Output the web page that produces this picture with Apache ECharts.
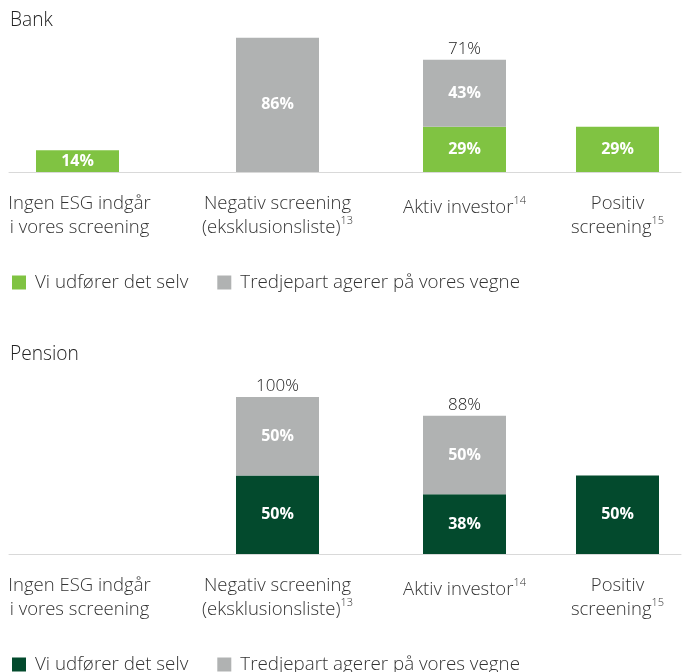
<!DOCTYPE html>
<html><head><meta charset="utf-8">
<script src="https://cdn.jsdelivr.net/npm/echarts@6/dist/echarts.min.js"></script>
<style>html,body{margin:0;padding:0;background:#fff}#c{width:686px;height:672px}</style>
</head><body><div id="c"></div>
<script>
// ---- data ----
const categories = ['Ingen ESG indgår\ni vores screening', 'Negativ screening\n(eksklusionsliste)', 'Aktiv investor', 'Positiv\nscreening'];
const footnotes = ['', '13', '14', '15'];
const seriesNames = ['Vi udfører det selv', 'Tredjepart agerer på vores vegne'];
const panelTitles = ['Bank', 'Pension'];
const bankSelf = [14, null, 29, 29];
const bankThird = [null, 86, 43, null];
const bankTotal = [null, null, 71, null];
const pensionSelf = [null, 50, 38, 50];
const pensionThird = [null, 50, 50, null];
const pensionTotal = [null, 100, 88, null];

// ---- layout / style ----
const FONT = 'Open Sans';
const GREY = '#b0b2b2';
const TXT = '#333';
const barLeft = [36, 236, 423, 576];
const barW = 83;
const labelShift = [4, 0, 0, 0];
const panels = [
  { title: panelTitles[0], self: bankSelf, third: bankThird, total: bankTotal, selfColor: '#80c342', top: 16, height: 156, titleTop: 11, legendTop: 273 },
  { title: panelTitles[1], self: pensionSelf, third: pensionThird, total: pensionTotal, selfColor: '#034a2d', top: 397, height: 157, titleTop: 345, legendTop: 655 }
];

const grid = [], xAxis = [], yAxis = [], series = [], title = [], legend = [];
panels.forEach((p, pi) => {
  title.push({ text: p.title, left: 10, top: p.titleTop, padding: 0,
    textStyle: { fontSize: 19.2, fontWeight: 300, color: '#222', fontFamily: FONT } });
  legend.push({ top: p.legendTop, left: 12, padding: 0, itemWidth: 14, itemHeight: 14, icon: 'rect', itemGap: 29,
    selectedMode: false,
    textStyle: { fontSize: 18.8, fontWeight: 300, color: TXT, fontFamily: FONT, padding: [0, 0, 0, 4] },
    data: [{ name: seriesNames[0], itemStyle: { color: p.selfColor } }, { name: seriesNames[1], itemStyle: { color: GREY } }] });
  // baseline grid
  let gi = grid.length;
  grid.push({ left: 9, width: 672, top: p.top, height: p.height });
  xAxis.push({ gridIndex: gi, type: 'category', data: [''], axisLine: { show: true, lineStyle: { color: '#d9d9d9', width: 1 } }, axisTick: { show: false }, axisLabel: { show: false } });
  yAxis.push({ gridIndex: gi, type: 'value', show: false, min: 0, max: 100 });
  categories.forEach((cat, i) => {
    gi = grid.length;
    grid.push({ left: barLeft[i], width: barW, top: p.top, height: p.height });
    const single = cat.indexOf('\n') < 0;
    xAxis.push({ gridIndex: gi, type: 'category', data: [cat], axisLine: { show: false }, axisTick: { show: false },
      axisLabel: { margin: 19, padding: [single ? 4 : 0, 0, 0, labelShift[i]], interval: 0,
        formatter: () => {
          let s = cat.split('\n').map(l => '{t|' + l + '}').join('\n');
          if (footnotes[i]) s += '{s|' + footnotes[i] + '}';
          return s;
        },
        rich: { t: { fontSize: 18.5, fontWeight: 300, lineHeight: 24.5, color: TXT, fontFamily: FONT },
                s: { fontSize: 11, fontWeight: 300, lineHeight: 14, verticalAlign: 'top', color: TXT, fontFamily: FONT } } } });
    yAxis.push({ gridIndex: gi, type: 'value', show: false, min: 0, max: 100 });
    const stack = 's' + pi + '_' + i;
    const inLabel = { show: true, position: 'inside', color: '#fff', fontWeight: 'bold', fontSize: 16, fontFamily: FONT, formatter: '{c}%' };
    series.push({ type: 'bar', name: seriesNames[0], xAxisIndex: gi, yAxisIndex: gi, stack, barWidth: '100%',
      data: [p.self[i]], itemStyle: { color: p.selfColor }, label: inLabel, silent: true });
    series.push({ type: 'bar', name: seriesNames[1], xAxisIndex: gi, yAxisIndex: gi, stack, barWidth: '100%',
      data: [p.third[i]], itemStyle: { color: GREY }, label: inLabel, silent: true });
    series.push({ type: 'bar', name: 'total', xAxisIndex: gi, yAxisIndex: gi, stack, barWidth: '100%',
      data: [p.total[i] == null ? null : 0], itemStyle: { color: 'transparent' }, silent: true,
      label: { show: p.total[i] != null, position: 'top', distance: 2, color: '#222', fontSize: 17, fontWeight: 300, fontFamily: FONT,
        formatter: () => p.total[i] + '%' } });
  });
});

const chart = echarts.init(document.getElementById('c'));
chart.setOption({ animation: false, textStyle: { fontFamily: FONT }, title, legend, grid, xAxis, yAxis, series });
</script>
</body></html>
